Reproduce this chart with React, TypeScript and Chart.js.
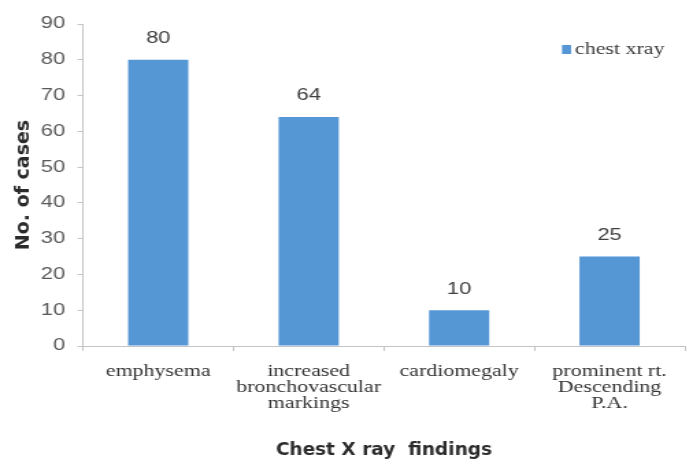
import { useEffect, useRef } from "react";
import { Chart, registerables } from "chart.js";

Chart.register(...registerables);

// Findings on chest X ray and number of cases for each
const categories: string[][] = [
  ["emphysema"],
  ["increased", "bronchovascular", "markings"],
  ["cardiomegaly"],
  ["prominent rt.", "Descending", "P.A."],
];
const caseCounts: number[] = [80, 64, 10, 25];
const seriesLabel = "chest xray";

const yMin = 0;
const yMax = 90;
const yStep = 10;

const xTitle = "Chest X ray  findings";
const yTitle = "No. of cases";

const BAR_COLOR = "#5596D5";
const AXIS_COLOR = "#C4C4C4";

// The chart is laid out on a narrower canvas and widened horizontally,
// which gives the serif labels their broad look.
const DRAW_W = 506;
const DRAW_H = 463;
const STRETCH = 693 / DRAW_W;

const valueLabels = {
  id: "valueLabels",
  afterDatasetsDraw(chart: any) {
    const { ctx } = chart;
    const meta = chart.getDatasetMeta(0);
    const values = chart.data.datasets[0].data as number[];
    ctx.save();
    ctx.font = '16px "Liberation Sans", Arial, sans-serif';
    ctx.fillStyle = "#404040";
    ctx.textAlign = "center";
    ctx.textBaseline = "middle";
    meta.data.forEach((bar: any, i: number) => {
      ctx.fillText(String(values[i]), bar.x, bar.y - 21);
    });
    ctx.restore();
  },
};

const titlesAndLegend = {
  id: "titlesAndLegend",
  afterDraw(chart: any) {
    const { ctx, chartArea } = chart;
    ctx.save();
    // undo the horizontal widening for the axis titles and the key swatch
    ctx.scale(1 / STRETCH, 1);
    ctx.fillStyle = "#2b2b2b";
    ctx.font = 'bold 18.5px "DejaVu Sans", sans-serif';
    ctx.textAlign = "center";
    ctx.textBaseline = "middle";
    const cx = ((chartArea.left + chartArea.right) / 2) * STRETCH;
    ctx.fillText(xTitle, cx, 450);

    ctx.save();
    ctx.font = 'bold 19px "DejaVu Sans", sans-serif';
    ctx.translate(23.5, (chartArea.top + chartArea.bottom) / 2);
    ctx.rotate(-Math.PI / 2);
    ctx.fillText(yTitle, 0, 0);
    ctx.restore();

    ctx.fillStyle = chart.data.datasets[0].backgroundColor;
    ctx.fillRect(562, 45, 9, 9);
    ctx.restore();

    ctx.save();
    ctx.font = '16px "Liberation Serif", "Times New Roman", serif';
    ctx.fillStyle = "#3a3a3a";
    ctx.textAlign = "left";
    ctx.textBaseline = "middle";
    ctx.fillText(chart.data.datasets[0].label, 575 / STRETCH, 50);
    ctx.restore();
  },
};

export default function App() {
  const canvasRef = useRef<HTMLCanvasElement | null>(null);

  useEffect(() => {
    if (!canvasRef.current) return;
    const chart = new Chart(canvasRef.current, {
      type: "bar",
      data: {
        labels: categories,
        datasets: [
          {
            label: seriesLabel,
            data: caseCounts,
            backgroundColor: BAR_COLOR,
            borderWidth: 0,
            barPercentage: 0.4,
            categoryPercentage: 1,
          },
        ],
      },
      options: {
        animation: false,
        responsive: true,
        maintainAspectRatio: false,
        layout: { padding: { top: 24, right: 6, bottom: 0, left: 0 } },
        plugins: {
          legend: { display: false },
          tooltip: { enabled: false },
        },
        scales: {
          x: {
            afterFit(scale: any) {
              scale.height = 117;
            },
            border: { color: AXIS_COLOR, width: 1 },
            grid: {
              drawOnChartArea: false,
              drawTicks: true,
              tickLength: 5,
              color: AXIS_COLOR,
              offset: true,
            },
            ticks: {
              padding: 13,
              color: "#333333",
              maxRotation: 0,
              autoSkip: false,
              font: {
                family: '"Liberation Serif", "Times New Roman", serif',
                size: 16,
                lineHeight: 1.0,
              },
            },
          },
          y: {
            min: yMin,
            max: yMax,
            afterFit(scale: any) {
              scale.width = 60.6;
            },
            border: { color: AXIS_COLOR, width: 1 },
            grid: {
              drawOnChartArea: false,
              drawTicks: true,
              tickLength: 4,
              color: AXIS_COLOR,
            },
            ticks: {
              stepSize: yStep,
              padding: 9,
              color: "#595959",
              font: {
                family: '"Liberation Sans", Arial, sans-serif',
                size: 16,
              },
            },
          },
        },
      },
      plugins: [valueLabels, titlesAndLegend],
    });
    return () => chart.destroy();
  }, []);

  return (
    <div
      style={{
        position: "fixed",
        inset: 0,
        overflow: "hidden",
        background: "#ffffff",
      }}
    >
      <div
        style={{
          position: "absolute",
          left: 0,
          top: 0,
          width: DRAW_W,
          height: DRAW_H,
          transform: `scaleX(${STRETCH})`,
          transformOrigin: "0 0",
        }}
      >
        <canvas ref={canvasRef} />
      </div>
    </div>
  );
}
